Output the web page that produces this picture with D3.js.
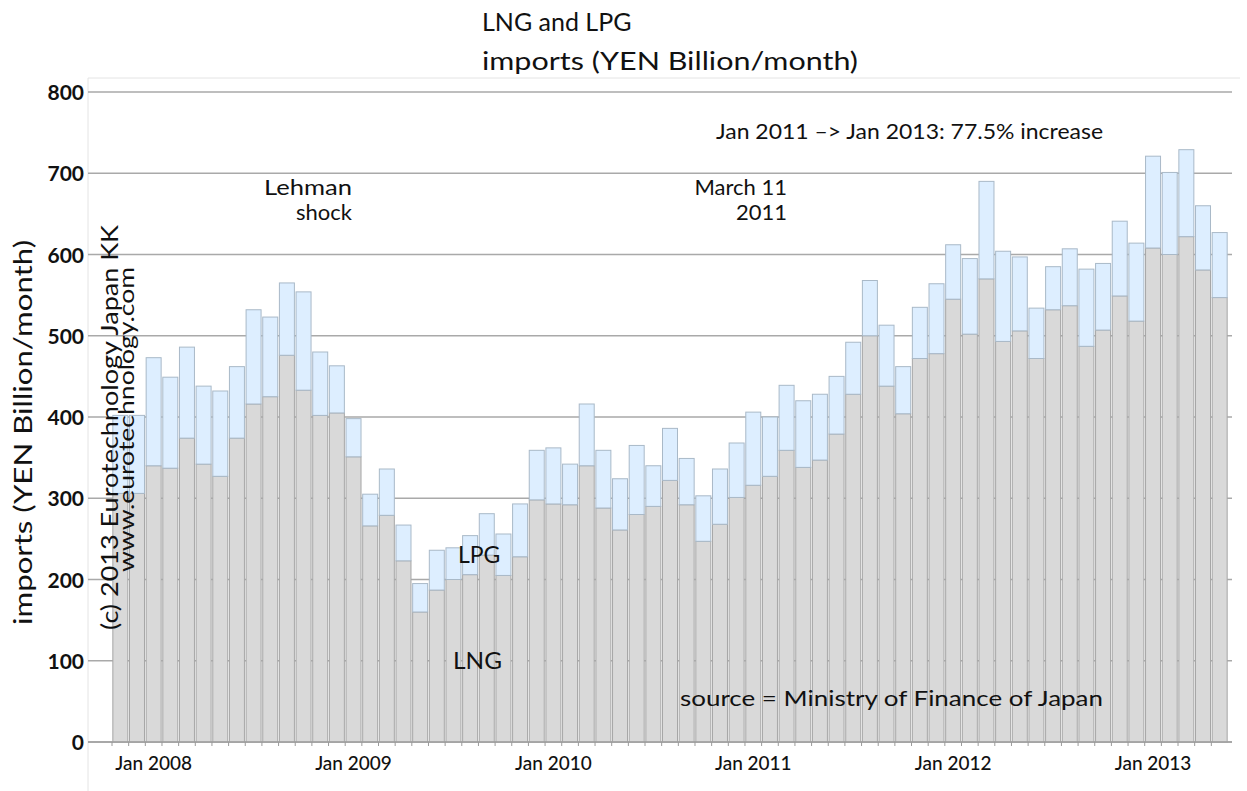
<!DOCTYPE html>
<html>
<head>
<meta charset="utf-8">
<script src="https://cdn.jsdelivr.net/npm/d3@7"></script>
<style>
  html, body { margin: 0; padding: 0; background: #ffffff; }
  svg { display: block; font-family: Lato, "Open Sans", sans-serif; }
</style>
</head>
<body>
<svg id="chart" width="1247" height="791"></svg>
<script>
// ---- data (YEN billion / month) ----
const months = [
  "2007-11","2007-12",
  "2008-01","2008-02","2008-03","2008-04","2008-05","2008-06","2008-07","2008-08","2008-09","2008-10","2008-11","2008-12",
  "2009-01","2009-02","2009-03","2009-04","2009-05","2009-06","2009-07","2009-08","2009-09","2009-10","2009-11","2009-12",
  "2010-01","2010-02","2010-03","2010-04","2010-05","2010-06","2010-07","2010-08","2010-09","2010-10","2010-11","2010-12",
  "2011-01","2011-02","2011-03","2011-04","2011-05","2011-06","2011-07","2011-08","2011-09","2011-10","2011-11","2011-12",
  "2012-01","2012-02","2012-03","2012-04","2012-05","2012-06","2012-07","2012-08","2012-09","2012-10","2012-11","2012-12",
  "2013-01","2013-02","2013-03","2013-04","2013-05"
];
const lng = [
  306, 306,
  340, 337, 374, 342, 327, 374, 416, 425, 476, 433, 402, 405,
  351, 266, 279, 223, 160, 187, 200, 206, 230, 205, 228, 298,
  293, 292, 340, 288, 261, 280, 290, 322, 292, 247, 268, 301,
  316, 327, 359, 338, 347, 379, 428, 500, 438, 404, 472, 478,
  545, 502, 570, 493, 506, 472, 532, 537, 487, 507, 549, 518,
  608, 600, 622, 581, 547
];
const lpg = [
  96, 96,
  133, 112, 112, 96, 105, 88, 116, 98, 89, 121, 78, 58,
  47, 39, 57, 44, 35, 49, 39, 48, 51, 51, 65, 61,
  69, 50, 76, 71, 63, 85, 50, 64, 57, 56, 68, 67,
  90, 73, 80, 82, 81, 71, 64, 68, 75, 58, 63, 86,
  67, 93, 120, 111, 91, 62, 53, 70, 95, 82, 92, 96,
  113, 101, 107, 79, 80
];
const yTicks = [0, 100, 200, 300, 400, 500, 600, 700, 800];
const xTickMonths = ["2008-01","2009-01","2010-01","2011-01","2012-01","2013-01"];
const xTickLabels = ["Jan 2008","Jan 2009","Jan 2010","Jan 2011","Jan 2012","Jan 2013"];

// ---- layout ----
const svg = d3.select("#chart");
const plot = { left: 112, right: 1228, top: 92, bottom: 742 };
const gridLeft = 88, gridRight = 1232;

const x = d3.scaleBand().domain(months).range([plot.left, plot.right]).paddingInner(0.1).paddingOuter(0.05);
const y = d3.scaleLinear().domain([0, 800]).range([plot.bottom, plot.top]);

// faint plot frame
svg.append("path")
  .attr("d", `M${gridLeft},800 V78 H1240`)
  .attr("fill", "none").attr("stroke", "#e4e4e4").attr("stroke-width", 1);

// gridlines (behind bars)
svg.append("g").selectAll("line").data(yTicks).join("line")
  .attr("x1", gridLeft).attr("x2", gridRight)
  .attr("y1", d => y(d)).attr("y2", d => y(d))
  .attr("stroke", "#a9a9a9").attr("stroke-width", 1.5);

// stacked bars
const rows = months.map((m, i) => ({ m, lng: lng[i], lpg: lpg[i] }));
const stack = d3.stack().keys(["lng", "lpg"])(rows);
const fills = { lng: "#d9d9d9", lpg: "#ddeeff" };
const strokes = { lng: "#a6a6a6", lpg: "#a9b9c8" };

svg.append("g").selectAll("g").data(stack).join("g")
  .attr("fill", s => fills[s.key]).attr("stroke", s => strokes[s.key]).attr("stroke-width", 1)
  .selectAll("rect").data(s => s).join("rect")
  .attr("x", d => x(d.data.m))
  .attr("width", x.bandwidth())
  .attr("y", d => y(d[1]))
  .attr("height", d => y(d[0]) - y(d[1]));

// x axis line and boundary ticks
svg.append("line").attr("x1", gridLeft).attr("x2", gridRight)
  .attr("y1", y(0)).attr("y2", y(0)).attr("stroke", "#a0a0a0").attr("stroke-width", 1.5);
const step = x.step();
svg.append("g").selectAll("line").data(months).join("line")
  .attr("x1", d => x(d) - (step - x.bandwidth()) / 2).attr("x2", d => x(d) - (step - x.bandwidth()) / 2)
  .attr("y1", y(0)).attr("y2", y(0) + 4)
  .attr("stroke", "#9a9a9a").attr("stroke-width", 1);

// x labels
const xAxis = d3.axisBottom(x).tickValues(xTickMonths).tickSize(0)
  .tickFormat(d => xTickLabels[xTickMonths.indexOf(d)]);
const gx = svg.append("g").attr("transform", `translate(0,${y(0)})`).call(xAxis);
gx.select(".domain").remove();
gx.selectAll("text").attr("dy", 0).attr("y", 28)
  .attr("font-family", "Lato, sans-serif").attr("font-size", 19).attr("font-weight", 500).attr("fill", "#111");

// y labels
const yAxis = d3.axisLeft(y).tickValues(yTicks).tickSize(0).tickFormat(d3.format("d"));
const gy = svg.append("g").attr("transform", `translate(84,0)`).call(yAxis);
gy.select(".domain").remove();
gy.selectAll("text").attr("x", 0).attr("dy", "0.36em")
  .attr("font-family", "Lato, sans-serif").attr("font-size", 21).attr("font-weight", 700).attr("fill", "#111");

// ---- texts: stretched to the reference width only when the font renders narrower ----
function txt(x0, y0, s, size, width, anchor, rot) {
  const t = svg.append("text").attr("x", x0).attr("y", y0).text(s)
    .attr("font-size", size).attr("fill", "#111").attr("text-anchor", anchor || "start");
  const natural = t.node().getComputedTextLength();
  if (width && natural < width) {
    const sx = anchor === "end" ? x0 - width : x0;
    t.attr("x", sx).attr("text-anchor", "start")
      .attr("textLength", width).attr("lengthAdjust", "spacingAndGlyphs");
  }
  if (rot) t.attr("transform", `rotate(-90,${x0},${y0})`);
  return t;
}
txt(482, 31, "LNG and LPG", 25, 0);
txt(482, 70, "imports (YEN Billion/month)", 25, 376);
txt(32, 625, "imports (YEN Billion/month)", 25, 385, "start", true);
txt(118, 630, "(c) 2013 Eurotechnology Japan KK", 23, 405, "start", true);
txt(134, 572, "www.eurotechnology.com", 21, 305, "start", true);
txt(352, 195, "Lehman", 22, 88, "end");
txt(352, 220, "shock", 22, 0, "end");
txt(787, 195, "March 11", 22, 89, "end");
txt(787, 220, "2011", 22, 0, "end");
txt(716, 139, "Jan 2011 \u2013> Jan 2013: 77.5% increase", 22, 387);
txt(458, 563, "LPG", 23, 42);
txt(453, 669, "LNG", 23, 49);
txt(680, 706, "source = Ministry of Finance of Japan", 22, 423);
</script>
</body>
</html>
